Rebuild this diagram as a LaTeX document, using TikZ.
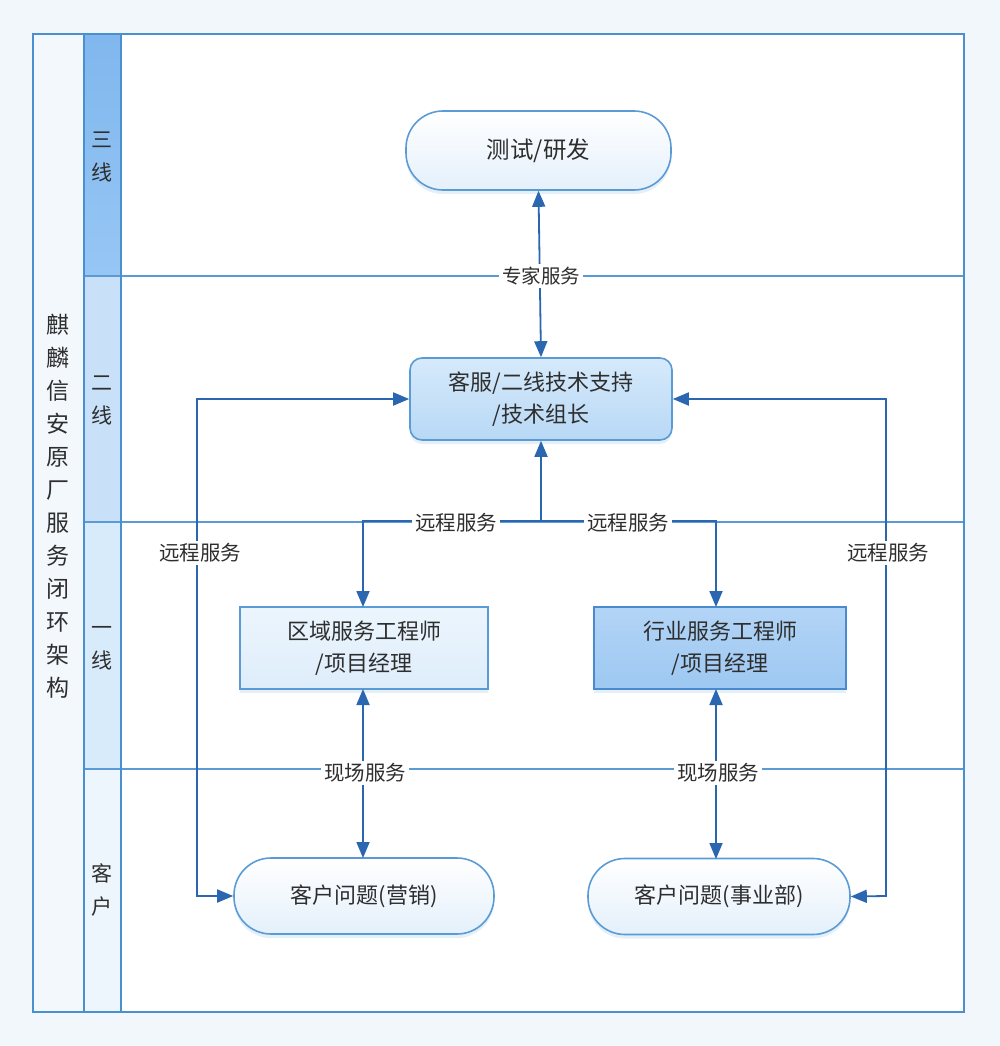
\documentclass[tikz,border=0pt]{standalone}
\usepackage{fontspec}
\newfontfamily\cjk{Noto Sans CJK SC}
\usetikzlibrary{arrows.meta,shadows,calc}
\definecolor{pagebg}{HTML}{F2F7FC}
\definecolor{framec}{HTML}{4A90D0}
\definecolor{lanec}{HTML}{5B9BD5}
\definecolor{arrc}{HTML}{2B66B0}
\definecolor{txt}{HTML}{2E2E2E}
\definecolor{titlebg}{HTML}{F3F8FD}
\definecolor{h3top}{RGB}{128,183,238}
\definecolor{h3bot}{RGB}{150,198,244}
\definecolor{h2}{RGB}{200,225,248}
\definecolor{h1}{RGB}{216,235,251}
\definecolor{h0}{RGB}{238,246,253}
\definecolor{qytop}{RGB}{236,245,253}
\definecolor{qybot}{RGB}{222,237,251}
\definecolor{hytop}{RGB}{178,212,246}
\definecolor{hybot}{RGB}{158,200,242}
\definecolor{hydraw}{RGB}{74,139,208}
\definecolor{kftop}{RGB}{214,234,251}
\definecolor{kfbot}{RGB}{184,216,245}
\definecolor{pillbot}{RGB}{228,240,251}
\tikzset{
  x=1pt, y=-1pt,
  every node/.style={font=\cjk, text=txt},
  nodetext/.style={font=\cjk\fontsize{22}{32}\selectfont, align=center, inner sep=0pt},
  shadowed/.style={drop shadow={shadow xshift=0pt, shadow yshift=-4pt, opacity=0.22, fill=lanec!70}},
  pill/.style={nodetext, rounded corners=37pt, draw=lanec, line width=1.6pt, shadowed,
               top color=white, bottom color=pillbot},
  softbox/.style={nodetext, rounded corners=12pt, draw=lanec, line width=1.6pt, shadowed,
               top color=kftop, bottom color=kfbot},
  engbox/.style={nodetext, draw=lanec, line width=1.6pt, shadowed},
  arr/.style={draw=arrc, line width=1.8pt, arrows={-Triangle[length=16pt,width=13pt]}},
  darr/.style={draw=arrc, line width=1.8pt, arrows={Triangle[length=16pt,width=13pt]-Triangle[length=16pt,width=13pt]}},
  lbl/.style={font=\cjk\fontsize{20.5}{22}\selectfont, fill=white, inner sep=3pt},
  lanelbl/.style={font=\cjk\fontsize{21}{33}\selectfont, align=center, inner sep=0pt},
}
\begin{document}
\begin{tikzpicture}
\useasboundingbox (0,0) rectangle (1000,1046);
\fill[pagebg] (0,0) rectangle (1000,1046);
% content area
\fill[white] (121,34) rectangle (964,1012);
% title column
\fill[titlebg] (33,34) rectangle (84,1012);
% lane headers
\shade[top color=h3top, bottom color=h3bot] (84,34) rectangle (121,276);
\fill[h2] (84,276) rectangle (121,522);
\fill[h1] (84,522) rectangle (121,769);
\fill[h0] (84,769) rectangle (121,1012);
% lane lines
\draw[lanec, line width=1.5pt] (84,276) -- (964,276);
\draw[lanec, line width=1.5pt] (84,522) -- (964,522);
\draw[lanec, line width=1.5pt] (84,769) -- (964,769);
% frame
\draw[framec, line width=2pt] (33,34) rectangle (964,1012);
\draw[framec, line width=2pt] (84,34) -- (84,1012);
\draw[framec, line width=2pt] (121,34) -- (121,1012);
% title
\node[font=\cjk\fontsize{23}{33}\selectfont, align=center, inner sep=0pt] (title) at (58,506)
  {麒\\麟\\信\\安\\原\\厂\\服\\务\\闭\\环\\架\\构};
% lane labels
\node[lanelbl] (l3) at (102,157) {三\\线};
\node[lanelbl] (l2) at (102,400) {二\\线};
\node[lanelbl] (l1) at (102,648) {一\\线};
\node[lanelbl] (l0) at (102,890) {客\\户};
% nodes
\node[pill, minimum width=265pt, minimum height=79pt, font=\cjk\fontsize{23.5}{32}\selectfont] (cs) at (538.5,150.5) {测试/研发};
\node[softbox, minimum width=262pt, minimum height=82pt] (kf) at (541,399) {客服/二线技术支持\\/技术组长};
\node[engbox, minimum width=248pt, minimum height=82pt, top color=qytop, bottom color=qybot] (qy) at (364,648) {区域服务工程师\\/项目经理};
\node[engbox, minimum width=252pt, minimum height=82pt, draw=hydraw, top color=hytop, bottom color=hybot] (hy) at (720,648) {行业服务工程师\\/项目经理};
\node[pill, minimum width=260pt, minimum height=76pt] (yx) at (364,896) {客户问题(营销)};
\node[pill, minimum width=262pt, minimum height=76pt] (sy) at (719,896.5) {客户问题(事业部)};
% connectors
\draw[darr] (kf.north) -- (cs.south);
\coordinate (br) at (541,521);
\draw[arr] (br) -- (kf.south);
\draw[arr] (br) -- (363,521) -- (363,607);
\draw[arr] (br) -- (716,521) -- (716,607);
\draw[darr] (363,689) -- (363,858);
\draw[darr] (716,689) -- (716,859);
\coordinate (la) at (197,399);
\coordinate (lb) at (197,896);
\draw[darr] (kf.west) -- (la) -- (lb) -- (yx.west);
\coordinate (ra) at (886,399);
\coordinate (rb) at (886,896);
\draw[darr] (kf.east) -- (ra) -- (rb) -- (sy.east);
% labels
\node[lbl, font=\cjk\fontsize{19.5}{22}\selectfont] (t1) at (541,276) {专家服务};
\node[lbl] (t2) at (456,523) {远程服务};
\node[lbl] (t3) at (628,523) {远程服务};
\node[lbl] (t4) at (200,553) {远程服务};
\node[lbl] (t5) at (888,553) {远程服务};
\node[lbl] (t6) at (365,773) {现场服务};
\node[lbl] (t7) at (718,773) {现场服务};
\end{tikzpicture}
\end{document}
